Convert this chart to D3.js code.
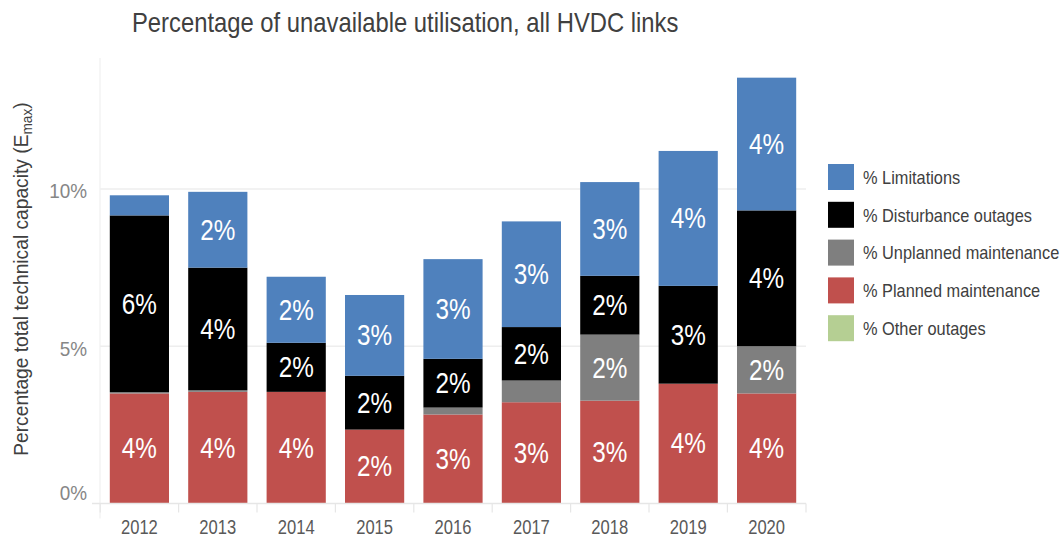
<!DOCTYPE html>
<html>
<head>
<meta charset="utf-8">
<script src="https://cdn.jsdelivr.net/npm/d3@7"></script>
<style>
  body { margin: 0; background: #fff; }
  svg { font-family: "Liberation Sans", Arial, sans-serif; }
</style>
</head>
<body>
<svg id="chart" width="1061" height="540"></svg>
<script>
const years = ["2012","2013","2014","2015","2016","2017","2018","2019","2020"];
const planned     = [3.50, 3.55, 3.55, 2.35, 2.83, 3.22, 3.27, 3.81, 3.50];
const unplanned   = [0.04, 0.05, 0.00, 0.00, 0.22, 0.69, 2.10, 0.00, 1.50];
const disturbance = [5.62, 3.90, 1.56, 1.71, 1.55, 1.70, 1.87, 3.11, 4.32];
const limitations = [0.64, 2.41, 2.10, 2.57, 3.17, 3.36, 2.98, 4.29, 4.22];
const other       = [0, 0, 0, 0, 0, 0, 0, 0, 0];
const seriesNames = ["% Limitations", "% Disturbance outages", "% Unplanned maintenance", "% Planned maintenance", "% Other outages"];
const yTicks = [0, 5, 10];
const titleText = "Percentage of unavailable utilisation, all HVDC links";

const colors = {
  "% Planned maintenance": "#c0504d",
  "% Unplanned maintenance": "#7f7f7f",
  "% Disturbance outages": "#000000",
  "% Limitations": "#4f81bd",
  "% Other outages": "#b5cf93"
};
const stackOrder = ["% Other outages", "% Planned maintenance", "% Unplanned maintenance", "% Disturbance outages", "% Limitations"];
const valuesBySeries = {
  "% Planned maintenance": planned,
  "% Unplanned maintenance": unplanned,
  "% Disturbance outages": disturbance,
  "% Limitations": limitations,
  "% Other outages": other
};
const table = years.map((yr, i) => {
  const row = { year: yr };
  for (const s of stackOrder) row[s] = valuesBySeries[s][i];
  return row;
});

// condense text horizontally (narrow typeface look)
function condense(sel, f) {
  sel.each(function() {
    const w = this.getComputedTextLength();
    d3.select(this).attr("textLength", w * f).attr("lengthAdjust", "spacingAndGlyphs");
  });
}

const svg = d3.select("#chart");
const pLeft = 100, pRight = 806, pTop = 60, pBottom = 503.5;
const x = d3.scaleBand().domain(years).range([pLeft, pRight]).paddingInner(0.245).paddingOuter(0.125);
const y = d3.scaleLinear().domain([0, 14]).range([pBottom, pBottom - 14 * 31.45]);

// gridlines
svg.append("g").selectAll("line").data(yTicks.filter(d => d > 0)).join("line")
  .attr("x1", pLeft).attr("x2", pRight)
  .attr("y1", d => y(d)).attr("y2", d => y(d))
  .attr("stroke", "#eeeeee").attr("stroke-width", 1.5);

// left vertical faint line
svg.append("line").attr("x1", pLeft).attr("x2", pLeft).attr("y1", pTop - 2).attr("y2", pBottom + 15)
  .attr("stroke", "#f0f0f0").attr("stroke-width", 1.2);

// bars
const stack = d3.stack().keys(stackOrder);
const layers = stack(table);
const g = svg.append("g");
layers.forEach(layer => {
  g.append("g").attr("fill", colors[layer.key])
    .selectAll("rect").data(layer).join("rect")
    .attr("x", d => x(d.data.year))
    .attr("width", x.bandwidth())
    .attr("y", d => y(d[1]))
    .attr("height", d => Math.max(0, y(d[0]) - y(d[1])));
});

// labels
const lg = svg.append("g").attr("fill", "#ffffff").attr("font-size", 30).attr("text-anchor", "middle");
layers.forEach(layer => {
  const t = lg.append("g").selectAll("text").data(layer.filter(d => d.data[layer.key] >= 1)).join("text")
    .attr("x", d => x(d.data.year) + x.bandwidth() / 2)
    .attr("y", d => (y(d[0]) + y(d[1])) / 2)
    .attr("dy", "0.33em")
    .text(d => Math.round(d.data[layer.key]) + "%");
  condense(t, 0.81);
});

// x axis
const xAxis = d3.axisBottom(x).tickSize(0).tickPadding(16.5);
const xg = svg.append("g").attr("transform", `translate(0,${pBottom})`).call(xAxis);
xg.select(".domain").remove();
xg.selectAll("text").attr("font-size", 19.5).attr("fill", "#595959").attr("font-family", null);
condense(xg.selectAll("text"), 0.85);
svg.append("line").attr("x1", pLeft - 8).attr("x2", pRight).attr("y1", pBottom).attr("y2", pBottom)
  .attr("stroke", "#e6e6e6").attr("stroke-width", 1.5);
const bounds = years.map(yr => x(yr) - x.step() * x.paddingInner() / 2).concat([pRight]);
svg.append("g").selectAll("line").data(bounds).join("line")
  .attr("x1", d => d).attr("x2", d => d).attr("y1", pBottom).attr("y2", pBottom + 9)
  .attr("stroke", "#e6e6e6").attr("stroke-width", 1.2);

// y axis
const yAxis = d3.axisLeft(y).tickValues(yTicks).tickSize(0).tickPadding(13).tickFormat(d => d + "%");
const yg = svg.append("g").attr("transform", `translate(${pLeft},0)`).call(yAxis);
yg.select(".domain").remove();
yg.selectAll("text").attr("font-size", 21).attr("fill", "#868686").attr("font-family", null)
  .attr("dy", d => d === 0 ? "-0.2em" : "0.42em");
condense(yg.selectAll("text"), 0.9);

// y axis title
const yt = svg.append("text").attr("transform", "translate(28,279) rotate(-90) scale(0.915,1)")
  .attr("text-anchor", "middle").attr("font-size", 21).attr("fill", "#404040");
yt.append("tspan").text("Percentage total technical capacity (E");
yt.append("tspan").attr("font-size", 15).attr("dy", 4).text("max");
yt.append("tspan").attr("dy", -4).text(")");

// title
const tt = svg.append("text").attr("x", 132).attr("y", 32).attr("font-size", 28).attr("fill", "#404040").text(titleText);
condense(tt, 0.85);

// legend
const leg = svg.append("g").attr("transform", "translate(828,164)");
seriesNames.forEach((s, i) => {
  const row = leg.append("g").attr("transform", `translate(0,${i * 37.8})`);
  row.append("rect").attr("width", 26).attr("height", 26).attr("fill", colors[s]);
  const lt = row.append("text").attr("x", 35).attr("y", 13).attr("dy", "0.36em")
    .attr("font-size", 19).attr("fill", "#404040").text(s);
  condense(lt, 0.86);
});
</script>
</body>
</html>
